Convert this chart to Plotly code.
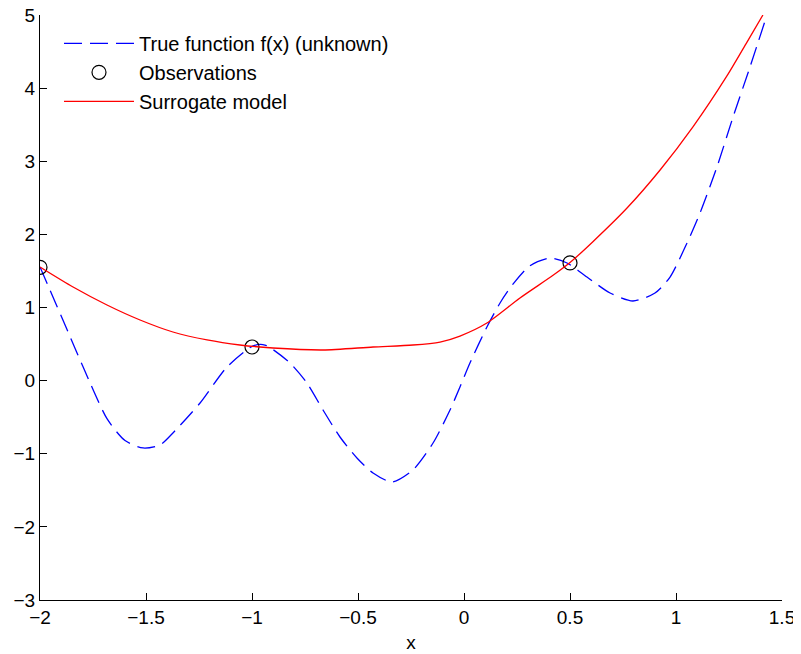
import plotly.graph_objects as go

# True function f(x) (blue dashed)
true_x = [-2.0, -1.953, -1.858, -1.797, -1.684, -1.599, -1.514, -1.434, -1.373, -1.245, -1.118,
          -0.995, -0.939, -0.821, -0.741, -0.665, -0.585, -0.505, -0.429, -0.340, -0.241,
          -0.146, -0.066, -0.019, 0.028, 0.108, 0.170, 0.231, 0.311, 0.406, 0.486,
          0.580, 0.689, 0.797, 0.901, 0.972, 1.052, 1.113, 1.193, 1.269, 1.349, 1.429]
true_y = [1.554, 1.24, 0.60, 0.19, -0.52, -0.82, -0.921, -0.880, -0.716, -0.306, 0.186,
          0.474, 0.487, 0.241, -0.032, -0.402, -0.771, -1.058, -1.263, -1.386, -1.222,
          -0.853, -0.402, -0.087, 0.241, 0.733, 1.062, 1.32, 1.57, 1.677, 1.609,
          1.417, 1.198, 1.089, 1.198, 1.417, 1.882, 2.29, 2.92, 3.605, 4.289, 5.0]

# Surrogate model (red)
sur_x = [-2.0, -1.844, -1.684, -1.528, -1.373, -1.212, -1.057, -0.901, -0.665, -0.429,
         -0.241, -0.113, -0.019, 0.108, 0.264, 0.420, 0.500, 0.608, 0.769, 0.925,
         1.080, 1.241, 1.335, 1.410]
sur_y = [1.554, 1.280, 1.034, 0.829, 0.665, 0.556, 0.487, 0.446, 0.419, 0.460,
         0.487, 0.528, 0.610, 0.788, 1.130, 1.44, 1.615, 1.90, 2.36, 2.88,
         3.47, 4.17, 4.63, 5.0]

# Observations
obs_x = [-2.0, -1.0, 0.5]
obs_y = [1.55, 0.46, 1.61]

x_ticks = [-2, -1.5, -1, -0.5, 0, 0.5, 1, 1.5]
x_labels = ["\u22122", "\u22121.5", "\u22121", "\u22120.5", "0", "0.5", "1", "1.5"]
y_ticks = [-3, -2, -1, 0, 1, 2, 3, 4, 5]
y_labels = ["\u22123", "\u22122", "\u22121", "0", "1", "2", "3", "4", "5"]

FONT = "Liberation Sans, Arial, Helvetica, sans-serif"

fig = go.Figure()
fig.add_trace(go.Scatter(x=true_x, y=true_y, mode="lines", name="True function f(x) (unknown)",
                         line=dict(color="#0000ff", width=1.3, dash="18px,8px", shape="spline", smoothing=0.7)))
fig.add_trace(go.Scatter(x=obs_x, y=obs_y, mode="markers", name="Observations",
                         marker=dict(symbol="circle-open", size=14, color="black", line=dict(width=1.2, color="black"))))
fig.add_trace(go.Scatter(x=sur_x, y=sur_y, mode="lines", name="Surrogate model",
                         line=dict(color="#ff0000", width=1.3, shape="spline", smoothing=0.7)))

# page body adds an 8px offset; size the figure so the plot area lands where the reference has it
fig.update_layout(
    width=793, height=646,
    margin=dict(l=32, r=19, t=7, b=54),
    paper_bgcolor="white", plot_bgcolor="white",
    font=dict(family=FONT, size=19, color="black"),
    showlegend=True,
    legend=dict(x=0.0256, y=0.985, xanchor="left", yanchor="top",
                bgcolor="rgba(0,0,0,0)", font=dict(size=20, family=FONT),
                itemwidth=70, tracegroupgap=0),
)
fig.update_xaxes(range=[-2, 1.5], tickvals=x_ticks, ticktext=x_labels, ticks="inside", ticklen=7,
                 tickcolor="black", showline=True, linecolor="black", linewidth=1, showgrid=False,
                 zeroline=False, automargin=False, ticklabeloverflow="allow",
                 title=dict(text="x", standoff=8, font=dict(size=19)),
                 tickfont=dict(size=19))
fig.update_yaxes(range=[-3, 5], tickvals=y_ticks, ticktext=y_labels, ticks="inside", ticklen=7,
                 tickcolor="black", showline=True, linecolor="black", linewidth=1, showgrid=False,
                 zeroline=False, automargin=False, ticklabeloverflow="allow", tickfont=dict(size=19))

fig.write_html("out.html")
